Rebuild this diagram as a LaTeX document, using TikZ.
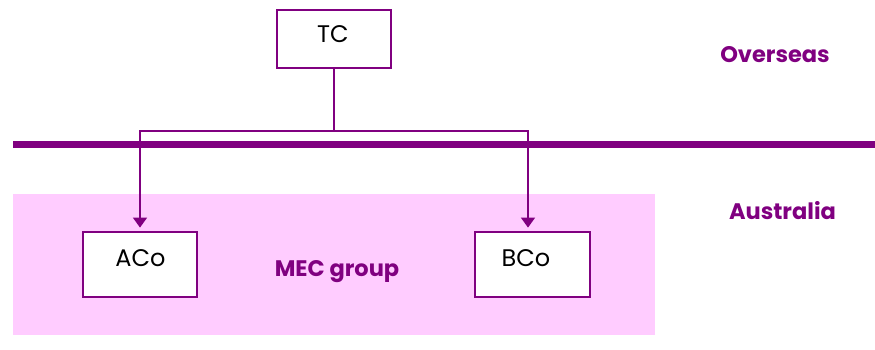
\documentclass[tikz,border=0pt]{standalone}
\usepackage{fontspec}
\setmainfont{Poppins}
\usetikzlibrary{arrows.meta}
\definecolor{mpurple}{RGB}{128,0,128}
\definecolor{mpink}{RGB}{255,204,255}
\tikzset{
  entity/.style={draw=mpurple, line width=2.8pt, fill=white, inner sep=0pt,
    font=\fontsize{24}{24}\selectfont, text=black},
  conn/.style={draw=mpurple, line width=1.6pt},
  arr/.style={conn, -{Triangle[length=10pt,width=14pt]}, shorten >=3pt},
  region/.style={text=mpurple, font=\fontsize{22.5}{22.5}\selectfont\bfseries, anchor=base},
}
\begin{document}
\begin{tikzpicture}[x=1pt,y=-1pt]
\useasboundingbox (0,0) rectangle (875,350);
\fill[mpink] (13,194) rectangle (655,335);
\draw[mpurple, line width=7pt] (13,144.5) -- (875,144.5);
\node[entity, minimum width=114pt, text height=33pt, text depth=25pt] (TC) at (334,39) {};
\node[entity, minimum width=114pt, text height=34pt, text depth=31pt] (ACo) at (140,264.5) {};
\node[entity, minimum width=115pt, text height=34pt, text depth=31pt] (BCo) at (532.5,264.5) {};
\node[entity, draw=none, fill=none, anchor=base] (TCt) at (333,43) {TC};
\node[entity, draw=none, fill=none, anchor=base] (ACot) at (140.5,266) {ACo};
\node[entity, draw=none, fill=none, anchor=base] (BCot) at (526,266) {BCo};
\coordinate (br) at (334,131);
\draw[conn] (TC.south) -- (br);
\draw[arr] (br) -| (ACo.north);
\draw[arr] (br) -| ([xshift=-4.5pt]BCo.north);
\node[region] (mec) at (337,276) {MEC group};
\node[region] (ovs) at (775,63) {Overseas};
\node[region] (aus) at (782.5,219) {Australia};
\end{tikzpicture}
\end{document}
